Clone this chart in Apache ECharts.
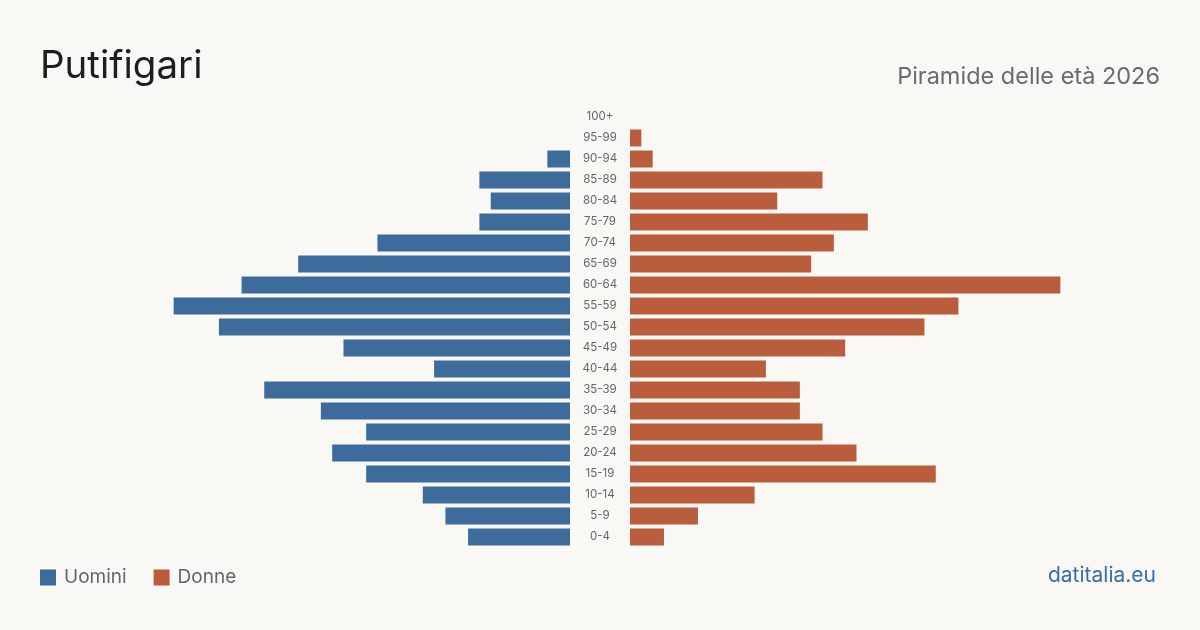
<!DOCTYPE html>
<html>
<head>
<meta charset="utf-8">
<script src="https://cdn.jsdelivr.net/npm/echarts@6/dist/echarts.min.js"></script>
<style>
html,body{margin:0;padding:0;background:#f9f8f4;}
#c{width:1200px;height:630px;}
</style>
</head>
<body>
<div id="c"></div>
<script>
const ageGroups = ['100+','95-99','90-94','85-89','80-84','75-79','70-74','65-69','60-64','55-59','50-54','45-49','40-44','35-39','30-34','25-29','20-24','15-19','10-14','5-9','0-4'];
const uomini = [0,0,2,8,7,8,17,24,29,35,31,20,12,27,22,18,21,18,13,11,9];
const donne  = [0,1,2,17,13,21,18,16,38,29,26,19,12,15,15,17,20,27,11,6,3];
const axisMax = 46.8;
const FONT = 'Inter, "Noto Sans", sans-serif';

const chart = echarts.init(document.getElementById('c'), null, {renderer:'canvas'});
chart.setOption({
  backgroundColor:'#f9f8f4',
  animation:false,
  textStyle:{fontFamily:FONT},
  title:[
    {text:'Putifigari', left:40, top:47, padding:0, textStyle:{fontFamily:FONT, fontSize:38.5, fontWeight:'normal', color:'#1e1e1e'}},
    {text:'Piramide delle età 2026', right:40, top:65, padding:0, textStyle:{fontFamily:FONT, fontSize:23.5, fontWeight:'normal', color:'#6b6b6b'}},
    {text:'datitalia.eu', right:44, top:565, padding:0, textStyle:{fontFamily:FONT, fontSize:21, fontWeight:'normal', color:'#3a6ea5'}}
  ],
  legend:{
    left:40, top:568, padding:0, icon:'rect', itemWidth:16, itemHeight:16, itemGap:27,
    textStyle:{fontFamily:FONT, fontSize:19, color:'#666', padding:[0,0,0,3]},
    data:['Uomini','Donne']
  },
  grid:[
    {left:40, width:530, top:106.5, height:441},
    {left:630, width:530, top:106.5, height:441}
  ],
  xAxis:[
    {gridIndex:0, type:'value', min:0, max:axisMax, inverse:true, show:false},
    {gridIndex:1, type:'value', min:0, max:axisMax, show:false}
  ],
  yAxis:[
    {gridIndex:0, type:'category', data:ageGroups, inverse:true, show:false},
    {gridIndex:1, type:'category', data:ageGroups, inverse:true,
     axisLine:{show:false}, axisTick:{show:false}, splitLine:{show:false},
     axisLabel:{show:true, margin:30, align:'center', fontFamily:FONT, fontSize:11.5, color:'#666'}}
  ],
  series:[
    {name:'Uomini', type:'bar', xAxisIndex:0, yAxisIndex:0, data:uomini, barWidth:17, itemStyle:{color:'#3c6b9c'}},
    {name:'Donne', type:'bar', xAxisIndex:1, yAxisIndex:1, data:donne, barWidth:17, itemStyle:{color:'#b95d3c'}}
  ]
});
</script>
</body>
</html>
